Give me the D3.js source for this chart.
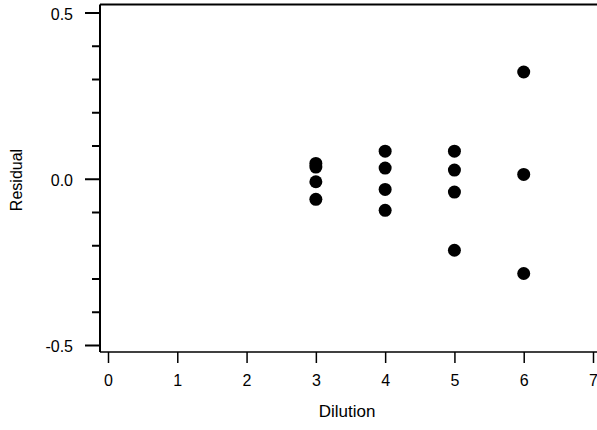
<!DOCTYPE html>
<html>
<head>
<meta charset="utf-8">
<script src="https://cdn.jsdelivr.net/npm/d3@7"></script>
<style>
  html, body { margin: 0; padding: 0; background: #fff; }
  svg { display: block; }
  text { font-family: "Liberation Sans", Arial, Helvetica, sans-serif; fill: #000; }
</style>
</head>
<body>
<svg id="chart" width="597" height="430"></svg>
<script>
// Residuals by dilution level
const dilution = [3, 3, 3, 3, 4, 4, 4, 4, 5, 5, 5, 5, 6, 6, 6];
const residual = [0.046, 0.035, -0.009, -0.062,
                  0.083, 0.032, -0.032, -0.095,
                  0.083, 0.026, -0.040, -0.215,
                  0.321, 0.013, -0.285];
const xTicks = [0, 1, 2, 3, 4, 5, 6, 7];
const yMajorTicks = [-0.5, 0.0, 0.5];
const yMinorTicks = [-0.4, -0.3, -0.2, -0.1, 0.1, 0.2, 0.3, 0.4];

const svg = d3.select("#chart");

const x = d3.scaleLinear().domain([0, 7]).range([108, 593]);
const y = d3.scaleLinear().domain([-0.5, 0.5]).range([345, 12.5]);

const frameLeft = 100, frameTop = 4.5, frameBottom = 352, frameRight = 597;

// frame: left, top and bottom lines
svg.append("line").attr("x1", frameLeft).attr("x2", frameLeft).attr("y1", frameTop).attr("y2", frameBottom)
  .attr("stroke", "#000").attr("stroke-width", 2);
svg.append("line").attr("x1", frameLeft).attr("x2", frameRight).attr("y1", frameTop).attr("y2", frameTop)
  .attr("stroke", "#000").attr("stroke-width", 2);
svg.append("line").attr("x1", frameLeft).attr("x2", frameRight).attr("y1", frameBottom).attr("y2", frameBottom)
  .attr("stroke", "#000").attr("stroke-width", 1.5);

// y axis: major ticks with labels, minor ticks without
const yAxis = d3.axisLeft(y).tickValues(yMajorTicks).tickSize(15).tickPadding(12)
  .tickFormat(d => d3.format(".1f")(d).replace("\u2212", "-"));
const gy = svg.append("g").attr("transform", `translate(${frameLeft},0)`).call(yAxis);
gy.select(".domain").remove();
gy.selectAll(".tick line").attr("stroke-width", 2);
gy.selectAll(".tick text").attr("font-size", 16).attr("dy", "0.42em")
  .attr("font-family", "Liberation Sans, Arial, sans-serif");

const gyMinor = svg.append("g").attr("transform", `translate(${frameLeft},0)`)
  .call(d3.axisLeft(y).tickValues(yMinorTicks).tickSize(8).tickFormat(""));
gyMinor.select(".domain").remove();
gyMinor.selectAll(".tick line").attr("stroke-width", 2);

// x axis
const xAxis = d3.axisBottom(x).tickValues(xTicks).tickSize(11).tickPadding(12)
  .tickFormat(d3.format("d"));
const gx = svg.append("g").attr("transform", `translate(0,${frameBottom})`).call(xAxis);
gx.select(".domain").remove();
gx.selectAll(".tick line").attr("stroke-width", 1.5);
gx.selectAll(".tick text").attr("font-size", 16).attr("font-family", "Liberation Sans, Arial, sans-serif");

// axis titles
svg.append("text").attr("x", 347).attr("y", 417).attr("text-anchor", "middle")
  .attr("font-size", 17).text("Dilution");
svg.append("text").attr("transform", "translate(22,180) rotate(-90)").attr("text-anchor", "middle")
  .attr("font-size", 16).text("Residual");

// points
svg.append("g").selectAll("circle")
  .data(d3.range(dilution.length))
  .join("circle")
  .attr("cx", i => x(dilution[i]))
  .attr("cy", i => y(residual[i]))
  .attr("r", 6.5)
  .attr("fill", "#000");
</script>
</body>
</html>
